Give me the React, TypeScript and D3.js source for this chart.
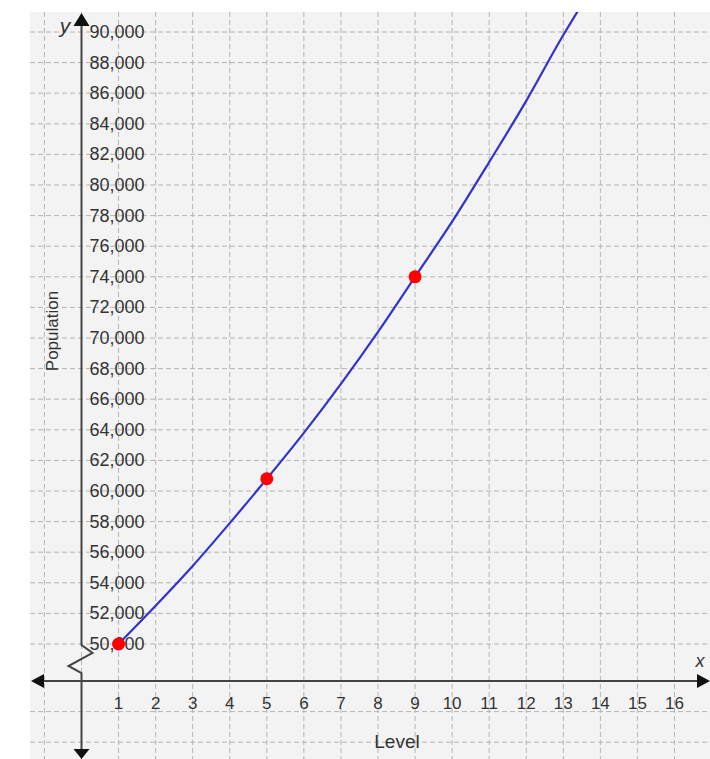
import React from 'react';
import * as d3 from 'd3';

// values
const levels = [1, 2, 3, 4, 5, 6, 7, 8, 9, 10, 11, 12, 13, 13.4];
const population = [50000, 52500, 55100, 57900, 60800, 63800, 67000, 70400, 74000, 77600, 81500, 85500, 89800, 91400];
const markedLevels = [1, 5, 9];
const markedPopulation = [50000, 60800, 74000];
const xTicks = d3.range(1, 17);
const yTicks = d3.range(50000, 90001, 2000);
const xGridValues = d3.range(-1, 18);

const W = 710;
const H = 759;
const BG_LEFT = 30;
const BG_TOP = 12;
const AXIS_Y = 681;
const FONT = 'Liberation Sans, Arial, sans-serif';

const App: React.FC = () => {
  const x = d3.scaleLinear().domain([0, 16]).range([81.5, 674.5]);
  const y = d3.scaleLinear().domain([50000, 90000]).range([644, 32]);
  const step = y(50000) - y(52000);
  const x0 = x(0);

  const line = d3.line<number>()
    .x((d, i) => x(levels[i]))
    .y(d => y(d))
    .curve(d3.curveMonotoneX);

  const belowAxisGrid = [AXIS_Y + step, AXIS_Y + 2 * step];
  const gridStyle = { stroke: '#b4b4b4', strokeWidth: 1, strokeDasharray: '5,3' };
  const axisColor = '#444';
  const textColor = '#333';

  return (
    <div style={{ position: 'absolute', left: 0, top: 0 }}>
      <svg width={W} height={H} style={{ display: 'block' }}>
        <defs>
          <clipPath id="plotClip">
            <rect x={BG_LEFT} y={BG_TOP} width={W - BG_LEFT} height={H - BG_TOP} />
          </clipPath>
        </defs>
        <rect x={0} y={0} width={W} height={H} fill="#fff" />
        <rect x={BG_LEFT} y={BG_TOP} width={W - BG_LEFT} height={H - BG_TOP} fill="#f3f3f3" />

        {/* grid */}
        {xGridValues.map(v => (
          <line key={'gx' + v} x1={x(v)} x2={x(v)} y1={BG_TOP} y2={H} {...gridStyle} />
        ))}
        {yTicks.map(v => (
          <line key={'gy' + v} x1={BG_LEFT} x2={W} y1={y(v)} y2={y(v)} {...gridStyle} />
        ))}
        {belowAxisGrid.map(v => (
          <line key={'gb' + v} x1={BG_LEFT} x2={W} y1={v} y2={v} {...gridStyle} />
        ))}

        {/* x axis */}
        <line x1={BG_LEFT + 12} x2={W - 10} y1={AXIS_Y} y2={AXIS_Y} stroke={axisColor} strokeWidth={2} />
        <path d={`M${BG_LEFT + 1},${AXIS_Y} L${BG_LEFT + 14},${AXIS_Y - 7} L${BG_LEFT + 14},${AXIS_Y + 7} Z`} fill="#111" />
        <path d={`M${W},${AXIS_Y} L${W - 13},${AXIS_Y - 7} L${W - 13},${AXIS_Y + 7} Z`} fill="#111" />

        {/* y axis with break */}
        <path
          d={`M${x0},${BG_TOP + 10} L${x0},${y(50000) + 1} L${x0 + 11},${y(50000) + 9} L${x0 - 13},${y(50000) + 22} L${x0},${y(50000) + 29} L${x0},${H - 8}`}
          fill="none" stroke={axisColor} strokeWidth={2} />
        <path d={`M${x0},${BG_TOP + 1} L${x0 - 8},${BG_TOP + 14} L${x0 + 8},${BG_TOP + 14} Z`} fill="#111" />
        <path d={`M${x0},${H} L${x0 - 8},${H - 10} L${x0 + 8},${H - 10} Z`} fill="#111" />

        {/* tick labels */}
        {yTicks.map(v => (
          <text key={'ty' + v} x={x0 + 8} y={y(v) + 6} fontSize={18} fontFamily={FONT} fill={textColor}>
            {d3.format(',')(v)}
          </text>
        ))}
        {xTicks.map(v => (
          <text key={'tx' + v} x={x(v)} y={709} fontSize={17} fontFamily={FONT} fill={textColor} textAnchor="middle">
            {v}
          </text>
        ))}

        {/* axis titles */}
        <text x={397} y={748} fontSize={19} fontFamily={FONT} fill={textColor} textAnchor="middle">Level</text>
        <text transform={`translate(58,${331}) rotate(-90)`} fontSize={17} fontFamily={FONT} fill={textColor} textAnchor="middle">Population</text>
        <text x={65} y={33} fontSize={21} fontFamily={FONT} fontStyle="italic" fill={textColor} textAnchor="middle">y</text>
        <text x={700} y={667} fontSize={18} fontFamily={FONT} fontStyle="italic" fill={textColor} textAnchor="middle">x</text>

        {/* curve and points */}
        <path d={line(population) || ''} fill="none" stroke="#3232cc" strokeWidth={2.2} clipPath="url(#plotClip)" />
        {markedLevels.map((lv, i) => (
          <circle key={'p' + lv} cx={x(lv)} cy={y(markedPopulation[i])} r={6.5} fill="#ff0000" />
        ))}
      </svg>
    </div>
  );
};

export default App;
